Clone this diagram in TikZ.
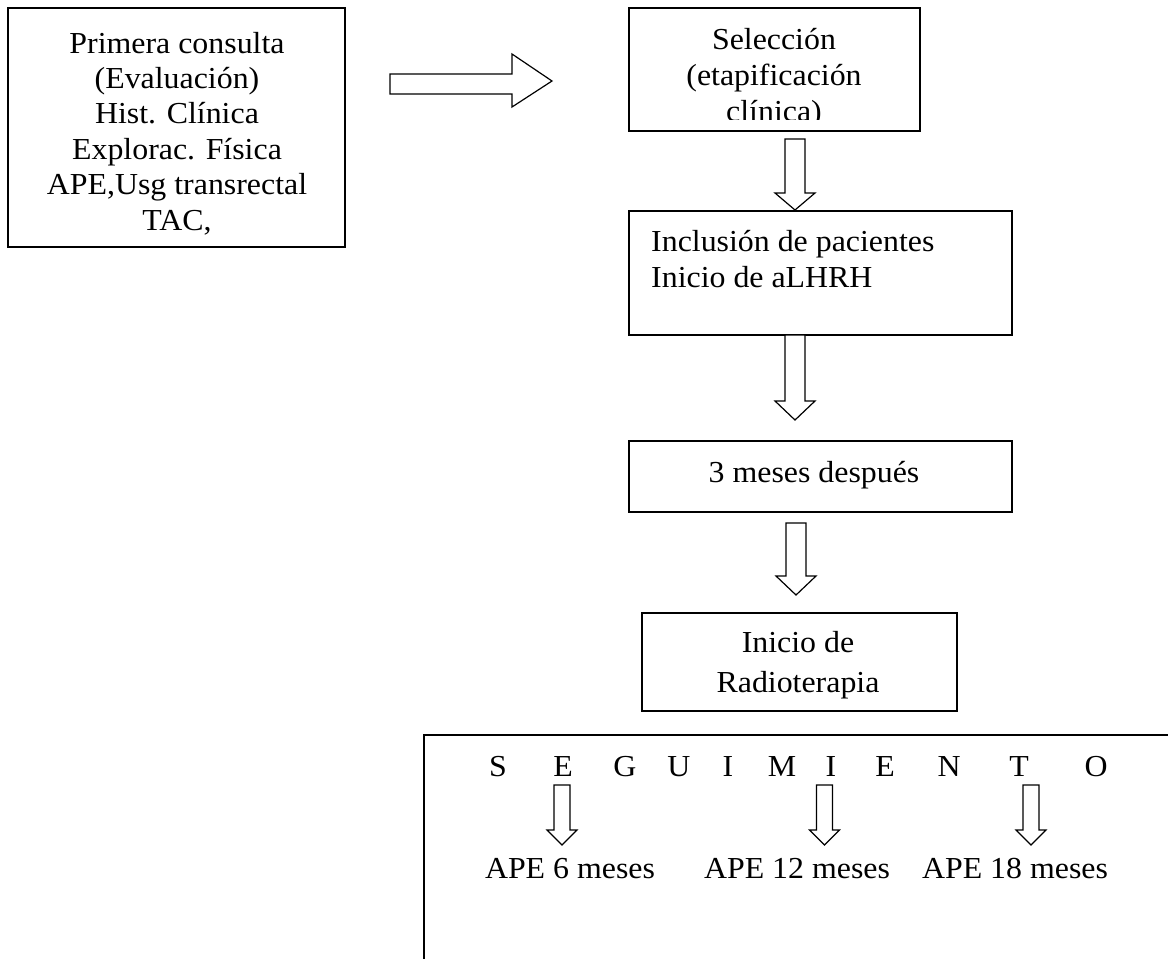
\documentclass[tikz,border=0pt]{standalone}
\usepackage{fontspec}
\setmainfont{Liberation Serif}[FakeStretch=1.045]
\begin{document}
\begin{tikzpicture}[x=1pt,y=-1pt,
  lbl/.style={inner sep=0pt, font=\fontsize{30.5pt}{35.4pt}\selectfont},
  boxline/.style={draw=black, line width=1.6pt},
  blk/.style={draw=black, line width=1.2pt, fill=white, line join=miter}]
\useasboundingbox[fill=white] (0,0) rectangle (1168,959);
\clip (0,0) rectangle (1168,959);
\newcommand{\dnarrow}[7]{%
  \draw[blk] (#2-#6,#3) coordinate (#1top) -- (#2+#6,#3) -- (#2+#6,#4) -- (#2+#7,#4) -- (#2,#5) coordinate (#1tip) -- (#2-#7,#4) -- (#2-#6,#4) -- cycle;}
% boxes
\draw[boxline] (8,8) rectangle (345,247);
\draw[boxline] (629,8) rectangle (920,131);
\draw[boxline] (629,211) rectangle (1012,335);
\draw[boxline] (629,441) rectangle (1012,512);
\draw[boxline] (642,613) rectangle (957,711);
\draw[boxline] (424,1000) -- (424,735) -- (1200,735);
% texts (base anchor = baseline of last line)
\node[lbl, anchor=base, align=center] (t1) at (177,230)
  {Primera consulta\\(Evaluación)\\Hist. Clínica\\Explorac. Física\\APE,Usg transrectal\\TAC,};
\begin{scope}
\clip (629,8) rectangle (920,119);
\node[lbl, anchor=base, align=center, font=\fontsize{30.5pt}{36pt}\selectfont] (t2) at (774,121)
  {Selección\\(etapificación\\clínica)};
\end{scope}
\node[lbl, anchor=base west, align=left, font=\fontsize{30.5pt}{36pt}\selectfont] (t3) at (651,287)
  {Inclusión de pacientes\\Inicio de aLHRH};
\node[lbl, anchor=base] (t4) at (814,482) {3 meses después};
\node[lbl, anchor=base, align=center, font=\fontsize{30.5pt}{40pt}\selectfont] (t5) at (798,692) {Inicio de\\Radioterapia};
% seguimiento letters
\foreach \ch/\xx [count=\i] in {S/498,E/563,G/625,U/679,I/728,M/782,I/831,E/885,N/949,T/1019,O/1096}
  \node[lbl, anchor=base] (s\i) at (\xx,776) {\ch};
\node[lbl, anchor=base] (ape6) at (570,878) {APE 6 meses};
\node[lbl, anchor=base] (ape12) at (797,878) {APE 12 meses};
\node[lbl, anchor=base] (ape18) at (1015,878) {APE 18 meses};
% block arrows
\draw[blk] (390,74) -- (512,74) -- (512,54) -- (552,81) -- (512,107) -- (512,94) -- (390,94) -- cycle;
\dnarrow{a2}{795}{139}{193}{210}{10}{20}
\dnarrow{a3}{795}{335}{401}{420}{10}{20}
\dnarrow{a4}{796}{523}{576}{595}{10}{20}
\dnarrow{a5}{562}{785}{830}{845}{8}{15}
\dnarrow{a6}{824.5}{785}{830}{845}{8}{15}
\dnarrow{a7}{1031}{785}{830}{845}{8}{15}
\end{tikzpicture}
\end{document}
